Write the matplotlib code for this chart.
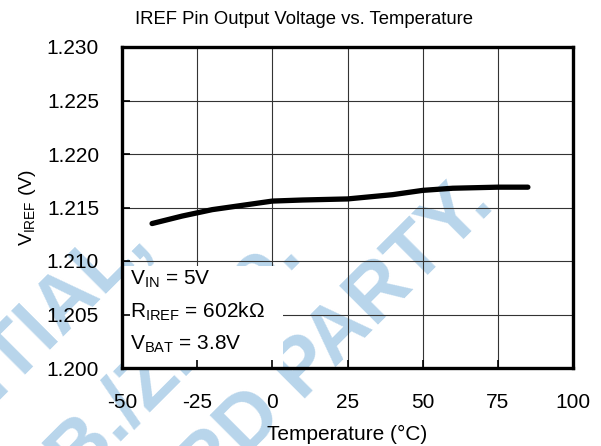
import matplotlib
matplotlib.use('Agg')
import matplotlib.pyplot as plt
from matplotlib.patches import Rectangle

# police proche d'Arial
plt.rcParams['font.family'] = ['Liberation Sans', 'DejaVu Sans']
plt.rcParams['mathtext.fontset'] = 'custom'
plt.rcParams['mathtext.rm'] = 'Liberation Sans'
plt.rcParams['mathtext.it'] = 'Liberation Sans:italic'
plt.rcParams['mathtext.bf'] = 'Liberation Sans:bold'
plt.rcParams['axes.unicode_minus'] = False

# les données
temperature = [-40, -30, -25, -20, -10, 0, 10, 25, 40, 50, 60, 75, 85]
v_iref = [1.2135, 1.2142, 1.2145, 1.2148, 1.2152, 1.2156, 1.2157, 1.2158, 1.2162, 1.2166, 1.2168, 1.2169, 1.2169]

x_ticks = [-50, -25, 0, 25, 50, 75, 100]
y_ticks = [1.200, 1.205, 1.210, 1.215, 1.220, 1.225, 1.230]
y_labels = ['1.200', '1.205', '1.210', '1.215', '1.220', '1.225', '1.230']

conditions = [r'$\mathrm{V_{IN}}$ = 5V', r'$\mathrm{R_{IREF}}$ = 602kΩ', r'$\mathrm{V_{BAT}}$ = 3.8V']

fig = plt.figure(figsize=(6.01, 4.46), dpi=100)
ax = fig.add_axes([122 / 601, 1 - 368 / 446, 451 / 601, 321 / 446])
ax.patch.set_alpha(0)

# filigrane en bleu clair, sous les axes
wm = dict(color='#b8d5eb', fontsize=57, fontweight='bold', rotation=45,
          rotation_mode='anchor', ha='right', va='baseline', zorder=-5)
fig.text(152 / 601, 1 - 244 / 446, 'CONFIDENTIAL,', **wm)
fig.text(304 / 601, 1 - 258 / 446, 'B./Z. Co.', **wm)
fig.text(496 / 601, 1 - 206 / 446, 'THIRD PARTY.', **wm)

# grille dessinée à la main pour passer sous le cadre blanc
for xv in x_ticks:
    ax.axvline(xv, color='#333333', lw=0.8, zorder=1)
for yv in y_ticks:
    ax.axhline(yv, color='#333333', lw=0.8, zorder=1)

ax.plot(temperature, v_iref, color='black', lw=3.8, solid_capstyle='round', zorder=3)

# encadré blanc des conditions de test
ax.add_patch(Rectangle((0, 0), 0.357, 0.318, transform=ax.transAxes,
                       facecolor='white', edgecolor='none', zorder=1.2))
for i, txt in enumerate(conditions):
    ax.text(0.018, 0.275 - i * 0.1, txt, transform=ax.transAxes, fontsize=15,
            ha='left', va='center', zorder=4)

ax.set_xlim(-50, 100)
ax.set_ylim(1.200, 1.230)
ax.set_xticks(x_ticks)
ax.set_yticks(y_ticks)
ax.set_yticklabels(y_labels)
ax.tick_params(direction='in', length=6, width=1.2, labelsize=15)
ax.tick_params(axis='x', pad=18)
ax.tick_params(axis='y', pad=16.5)
for s in ax.spines.values():
    s.set_linewidth(2.4)
    s.set_zorder(5)

ax.set_xlabel('Temperature (°C)', fontsize=15, labelpad=9.5)
ax.set_ylabel(r'$\mathrm{V_{IREF}}$ (V)', fontsize=14, labelpad=6)
fig.text(0.505, 1 - 19 / 446, 'IREF Pin Output Voltage vs. Temperature',
         fontsize=13.3, ha='center', va='center')

fig.savefig('out.png', dpi=100)
